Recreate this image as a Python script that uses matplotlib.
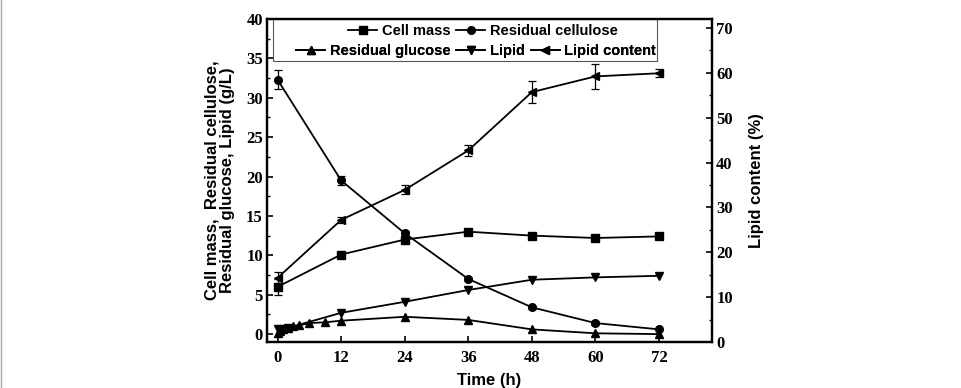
import matplotlib.pyplot as plt
from matplotlib.lines import Line2D

# data
t_main = [0, 12, 24, 36, 48, 60, 72]
cell_mass = [6.0, 10.1, 12.0, 13.0, 12.5, 12.2, 12.4]
cell_mass_err = [1.0, 0.2, 0.3, 0.2, 0.2, 0.2, 0.2]
cellulose = [32.3, 19.5, 12.8, 7.0, 3.4, 1.4, 0.6]
cellulose_err = [1.2, 0.6, 0.3, 0.2, 0.2, 0.2, 0.1]

t_glucose = [0, 0.5, 1, 2, 3, 4, 6, 9, 12, 24, 36, 48, 60, 72]
glucose = [0.2, 0.4, 0.6, 0.8, 1.0, 1.1, 1.4, 1.5, 1.7, 2.2, 1.8, 0.6, 0.1, 0.0]

t_lipid = [0, 1, 2, 12, 24, 36, 48, 60, 72]
lipid = [0.7, 0.7, 0.8, 2.7, 4.1, 5.6, 6.9, 7.2, 7.4]

lipid_content = [14.3, 27.2, 33.9, 42.7, 55.7, 59.2, 59.9]
lipid_content_err = [1.3, 0.6, 1.0, 1.2, 2.5, 2.8, 0.9]

xticks = [0, 12, 24, 36, 48, 60, 72]

sans = 'Liberation Sans'
serif = 'Liberation Serif'

fig = plt.figure(figsize=(9.61, 3.88), dpi=100)
ax = fig.add_axes([0.2778, 0.1186, 0.4631, 0.8325])
ax2 = ax.twinx()

kw = dict(color='black', lw=1.3, ms=5.5, capsize=3, elinewidth=0.9, capthick=0.9)
ax.errorbar(t_main, cell_mass, yerr=cell_mass_err, marker='s', **kw)
ax.errorbar(t_main, cellulose, yerr=cellulose_err, marker='o', **kw)
ax.plot(t_glucose, glucose, color='black', lw=1.3, marker='^', ms=6)
ax.plot(t_lipid, lipid, color='black', lw=1.3, marker='v', ms=6)
ax2.errorbar(t_main, lipid_content, yerr=lipid_content_err, marker='<', **kw)

ax.set_xlim(-2, 82)
ax.set_ylim(-1, 40)
ax2.set_ylim(0, 72)
ax.set_xticks(xticks)
ax.set_yticks(range(0, 41, 5))
ax.set_yticks([i + 2.5 for i in range(0, 40, 5)], minor=True)
ax2.set_yticks(range(0, 71, 10))
ax2.set_yticks(range(5, 71, 10), minor=True)

for a in (ax, ax2):
    for s in a.spines.values():
        s.set_linewidth(1.6)
    a.tick_params(direction='in', length=4, width=1.2, labelsize=12)
    a.tick_params(which='minor', direction='in', length=2.5, width=1.0)
    for lab in a.get_xticklabels() + a.get_yticklabels():
        lab.set_fontfamily(serif)
        lab.set_fontweight('bold')
ax.tick_params(axis='x', pad=6)
ax.tick_params(axis='y', pad=3)
ax2.tick_params(axis='y', pad=3)

ax.set_xlabel('Time (h)', fontfamily=sans, fontweight='bold', fontsize=12, labelpad=5)
ax.set_ylabel('Cell mass,  Residual cellulose,\nResidual glucose, Lipid (g/L)',
              fontfamily=sans, fontweight='bold', fontsize=12, labelpad=8, linespacing=1.05)
ax2.set_ylabel('Lipid content (%)', fontfamily=sans, fontweight='bold', fontsize=12, labelpad=12)

def handle(m):
    return Line2D([], [], color='black', lw=1.3, marker=m, ms=5.5)

leg_font = {'family': sans, 'weight': 'bold', 'size': 10.5}
leg1 = ax.legend([handle('s'), handle('o')], ['Cell mass', 'Residual cellulose'],
                 ncol=2, loc='center', bbox_to_anchor=(0.485, 0.963), frameon=False,
                 prop=leg_font, handlelength=2.0, handletextpad=0.3, columnspacing=0.4,
                 borderpad=0, borderaxespad=0)
ax.add_artist(leg1)
leg2 = ax.legend([handle('^'), handle('v'), handle('<')],
                 ['Residual glucose', 'Lipid', 'Lipid content'],
                 ncol=3, loc='center', bbox_to_anchor=(0.47, 0.9), frameon=False,
                 prop=leg_font, handlelength=2.0, handletextpad=0.3, columnspacing=0.4,
                 borderpad=0, borderaxespad=0)
ax.add_artist(leg2)
box = plt.Rectangle((0.0135, 0.87), 0.8625, 0.13, transform=ax.transAxes,
                    fill=False, edgecolor='#555555', lw=0.8, zorder=5)
ax.add_patch(box)

fig.add_artist(Line2D([0.001, 0.001], [0, 1], color='#aaaaaa', lw=1.0))

fig.savefig('out.png', dpi=100)
